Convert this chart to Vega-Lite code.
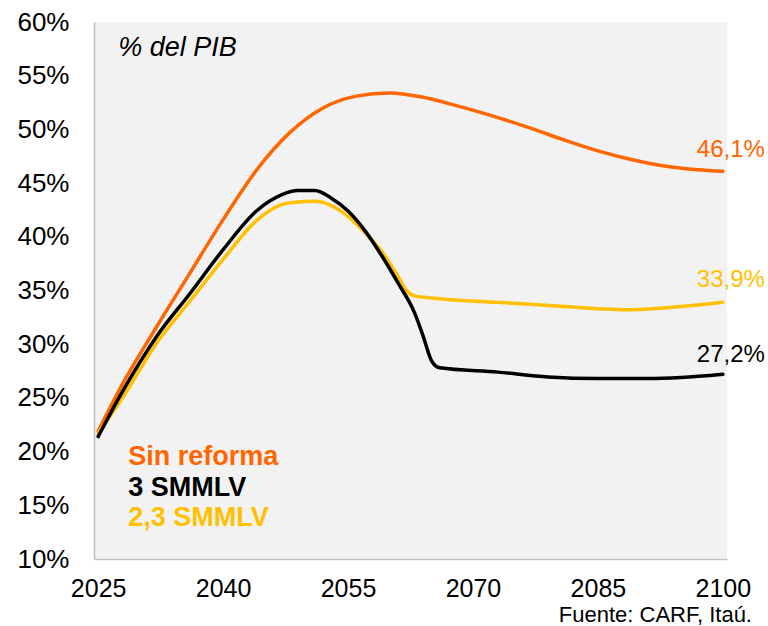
{
  "$schema": "https://vega.github.io/schema/vega-lite/v6.json",
  "width": 633,
  "height": 537,
  "autosize": {"type": "none"},
  "padding": {"left": 94, "top": 22, "right": 41, "bottom": 67},
  "background": "white",
  "view": {"fill": "#f2f2f2", "stroke": null},
  "config": {"font": "Liberation Sans"},
  "datasets": {
    "lines": [
      {"s": "Sin reforma", "year": 2025, "v": 21.9},
      {"s": "Sin reforma", "year": 2028, "v": 26.4},
      {"s": "Sin reforma", "year": 2032, "v": 31.6},
      {"s": "Sin reforma", "year": 2036, "v": 36.6},
      {"s": "Sin reforma", "year": 2040, "v": 41.6},
      {"s": "Sin reforma", "year": 2044, "v": 46.2},
      {"s": "Sin reforma", "year": 2048, "v": 49.7},
      {"s": "Sin reforma", "year": 2052, "v": 52.0},
      {"s": "Sin reforma", "year": 2056, "v": 53.1},
      {"s": "Sin reforma", "year": 2060, "v": 53.4},
      {"s": "Sin reforma", "year": 2064, "v": 53.0},
      {"s": "Sin reforma", "year": 2069, "v": 52.0},
      {"s": "Sin reforma", "year": 2073, "v": 51.1},
      {"s": "Sin reforma", "year": 2077, "v": 50.1},
      {"s": "Sin reforma", "year": 2081, "v": 49.0},
      {"s": "Sin reforma", "year": 2085, "v": 48.0},
      {"s": "Sin reforma", "year": 2089, "v": 47.2},
      {"s": "Sin reforma", "year": 2093, "v": 46.6},
      {"s": "Sin reforma", "year": 2097, "v": 46.25},
      {"s": "Sin reforma", "year": 2100, "v": 46.1},
      {"s": "2,3 SMMLV", "year": 2025, "v": 21.7},
      {"s": "2,3 SMMLV", "year": 2028, "v": 25.1},
      {"s": "2,3 SMMLV", "year": 2032, "v": 30.1},
      {"s": "2,3 SMMLV", "year": 2036, "v": 34.0},
      {"s": "2,3 SMMLV", "year": 2040, "v": 37.9},
      {"s": "2,3 SMMLV", "year": 2044, "v": 41.5},
      {"s": "2,3 SMMLV", "year": 2047, "v": 43.0},
      {"s": "2,3 SMMLV", "year": 2049, "v": 43.25},
      {"s": "2,3 SMMLV", "year": 2051, "v": 43.3},
      {"s": "2,3 SMMLV", "year": 2053, "v": 42.9},
      {"s": "2,3 SMMLV", "year": 2055, "v": 41.9},
      {"s": "2,3 SMMLV", "year": 2057, "v": 40.4},
      {"s": "2,3 SMMLV", "year": 2059, "v": 38.7},
      {"s": "2,3 SMMLV", "year": 2061, "v": 36.3},
      {"s": "2,3 SMMLV", "year": 2062, "v": 35.0},
      {"s": "2,3 SMMLV", "year": 2063, "v": 34.5},
      {"s": "2,3 SMMLV", "year": 2065, "v": 34.3},
      {"s": "2,3 SMMLV", "year": 2073, "v": 33.9},
      {"s": "2,3 SMMLV", "year": 2081, "v": 33.5},
      {"s": "2,3 SMMLV", "year": 2089, "v": 33.2},
      {"s": "2,3 SMMLV", "year": 2095, "v": 33.5},
      {"s": "2,3 SMMLV", "year": 2100, "v": 33.9},
      {"s": "3 SMMLV", "year": 2025, "v": 21.4},
      {"s": "3 SMMLV", "year": 2028, "v": 25.7},
      {"s": "3 SMMLV", "year": 2032, "v": 30.7},
      {"s": "3 SMMLV", "year": 2036, "v": 34.7},
      {"s": "3 SMMLV", "year": 2040, "v": 38.8},
      {"s": "3 SMMLV", "year": 2044, "v": 42.4},
      {"s": "3 SMMLV", "year": 2047, "v": 43.9},
      {"s": "3 SMMLV", "year": 2049, "v": 44.3},
      {"s": "3 SMMLV", "year": 2051, "v": 44.3},
      {"s": "3 SMMLV", "year": 2053, "v": 43.6},
      {"s": "3 SMMLV", "year": 2055, "v": 42.4},
      {"s": "3 SMMLV", "year": 2057, "v": 40.6},
      {"s": "3 SMMLV", "year": 2059, "v": 38.3},
      {"s": "3 SMMLV", "year": 2061, "v": 35.7},
      {"s": "3 SMMLV", "year": 2063, "v": 32.9},
      {"s": "3 SMMLV", "year": 2064, "v": 30.8},
      {"s": "3 SMMLV", "year": 2065, "v": 28.5},
      {"s": "3 SMMLV", "year": 2066, "v": 27.8},
      {"s": "3 SMMLV", "year": 2073, "v": 27.4},
      {"s": "3 SMMLV", "year": 2079, "v": 26.95},
      {"s": "3 SMMLV", "year": 2085, "v": 26.8},
      {"s": "3 SMMLV", "year": 2091, "v": 26.8},
      {"s": "3 SMMLV", "year": 2095, "v": 26.9},
      {"s": "3 SMMLV", "year": 2100, "v": 27.2}
    ],
    "legend": [
      {"s": "Sin reforma", "label": "Sin reforma", "year": 2028.6, "v": 19.5},
      {"s": "3 SMMLV", "label": "3 SMMLV", "year": 2028.6, "v": 16.6},
      {"s": "2,3 SMMLV", "label": "2,3 SMMLV", "year": 2028.6, "v": 13.8}
    ],
    "ends": [
      {"s": "Sin reforma", "label": "46,1%", "year": 2100, "v": 48.1},
      {"s": "2,3 SMMLV", "label": "33,9%", "year": 2100, "v": 36.0},
      {"s": "3 SMMLV", "label": "27,2%", "year": 2100, "v": 29.0}
    ],
    "note": [
      {"label": "% del PIB", "year": 2027.4, "v": 57.6}
    ],
    "source": [
      {"label": "Fuente: CARF, Itaú.", "year": 2103.5, "v": 4.15}
    ]
  },
  "encoding": {
    "x": {"field": "year", "type": "quantitative", "scale": {"domain": [2024.5, 2100.5], "nice": false, "zero": false},
      "axis": {"values": [2025, 2040, 2055, 2070, 2085, 2100], "format": "d", "title": null, "grid": false, "ticks": false, "domainColor": "#bfbfbf", "domainWidth": 1.5, "labelFontSize": 25, "labelColor": "#000000", "labelPadding": 17, "labelFont": "Liberation Sans"}},
    "y": {"field": "v", "type": "quantitative", "scale": {"domain": [10, 60], "nice": false, "zero": false},
      "axis": {"values": [10, 15, 20, 25, 30, 35, 40, 45, 50, 55, 60], "labelExpr": "datum.value + '%'", "title": null, "grid": false, "ticks": false, "domainColor": "#bfbfbf", "domainWidth": 1.5, "labelFontSize": 26, "labelColor": "#000000", "labelPadding": 25, "labelFont": "Liberation Sans"}},
    "color": {"field": "s", "type": "nominal", "legend": null,
      "scale": {"domain": ["Sin reforma", "3 SMMLV", "2,3 SMMLV"], "range": ["#ff6600", "#000000", "#ffc000"]}}
  },
  "layer": [
    {"data": {"name": "lines"}, "mark": {"type": "line", "strokeWidth": 3.5, "interpolate": "monotone", "strokeCap": "round"},
      "encoding": {"order": {"field": "year", "type": "quantitative"}}},
    {"data": {"name": "legend"}, "mark": {"type": "text", "align": "left", "baseline": "middle", "fontSize": 27, "fontWeight": "bold", "font": "Liberation Sans"},
      "encoding": {"text": {"field": "label"}}},
    {"data": {"name": "ends"}, "mark": {"type": "text", "align": "center", "baseline": "middle", "fontSize": 24, "dx": 8, "font": "Liberation Sans", "clip": false},
      "encoding": {"text": {"field": "label"}}},
    {"data": {"name": "note"}, "mark": {"type": "text", "align": "left", "baseline": "middle", "fontSize": 27, "fontStyle": "italic", "font": "Liberation Sans"},
      "encoding": {"text": {"field": "label"}, "color": {"value": "#000000"}}},
    {"data": {"name": "source"}, "mark": {"type": "text", "align": "right", "baseline": "alphabetic", "fontSize": 22, "font": "Liberation Sans", "clip": false},
      "encoding": {"text": {"field": "label"}, "color": {"value": "#000000"}}}
  ]
}
